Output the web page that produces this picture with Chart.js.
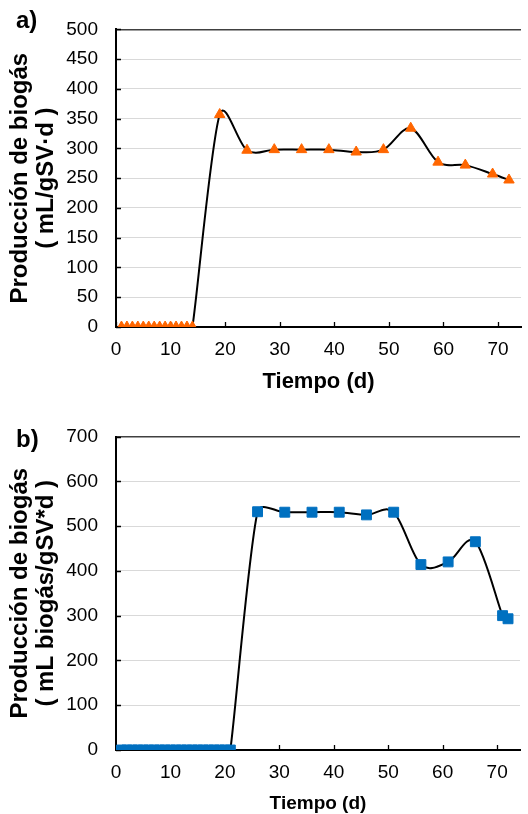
<!DOCTYPE html>
<html>
<head>
<meta charset="utf-8">
<script src="https://cdn.jsdelivr.net/npm/chart.js@4/dist/chart.umd.min.js"></script>
<style>
  body { margin: 0; background: #fff; }
  .box { position: absolute; left: 0; width: 528px; }
</style>
</head>
<body>
<div class="box" style="top:0;height:405px"><canvas id="chartA" width="528" height="405"></canvas></div>
<div class="box" style="top:405px;height:409px"><canvas id="chartB" width="528" height="409"></canvas></div>
<script>
// a) biogas production, mL/gSV·d
const daysA = [1, 2, 3, 4, 5, 6, 7, 8, 9, 10, 11, 12, 13, 14, 19, 24, 29, 34, 39, 44, 49, 54, 59, 64, 69, 72];
const biogasA = [0, 0, 0, 0, 0, 0, 0, 0, 0, 0, 0, 0, 0, 0, 357, 297, 298, 298, 298, 294, 298, 334, 277, 272, 257, 247];

// b) biogas production, mL biogás/gSV*d
const daysB = [1, 2, 3, 4, 5, 6, 7, 8, 9, 10, 11, 12, 13, 14, 15, 16, 17, 18, 19, 20, 21, 26, 31, 36, 41, 46, 51, 56, 61, 66, 71, 72];
const biogasB = [0, 0, 0, 0, 0, 0, 0, 0, 0, 0, 0, 0, 0, 0, 0, 0, 0, 0, 0, 0, 0, 532, 531, 531, 531, 525, 531, 414, 420, 465, 300, 293];

const xTicks = [0, 10, 20, 30, 40, 50, 60, 70];

const FONT = "'Liberation Sans', Arial, sans-serif";

// spreadsheet-style smoothing: tangent (next - prev)/6, kept short near close neighbours
const excelSmooth = {
  id: "excelSmooth",
  beforeDatasetsDraw(chart) {
    chart.data.datasets.forEach((ds, i) => {
      const meta = chart.getDatasetMeta(i);
      meta.dataset.updateControlPoints(chart.chartArea, "x");
      const pts = meta.data;
      pts.forEach((p, k) => {
        const prev = pts[k - 1] || p;
        const next = pts[k + 1] || p;
        const dx = (next.x - prev.x) / 6;
        const dy = (next.y - prev.y) / 6;
        const len = Math.hypot(dx, dy) || 1;
        const segPrev = Math.hypot(p.x - prev.x, p.y - prev.y);
        const segNext = Math.hypot(next.x - p.x, next.y - p.y);
        const f1 = Math.min(1, (0.42 * segPrev) / len);
        const f2 = Math.min(1, (0.42 * segNext) / len);
        p.cp1x = p.x - dx * f1; p.cp1y = p.y - dy * f1;
        p.cp2x = p.x + dx * f2; p.cp2y = p.y + dy * f2;
      });
    });
  },
};

// short tick marks pointing into the plot, plus the a)/b) tag
const innerTicks = {
  id: "innerTicks",
  beforeDatasetsDraw(chart, args, opts) {
    const { ctx, chartArea, scales } = chart;
    ctx.save();
    ctx.strokeStyle = "#000";
    ctx.lineWidth = 1.3;
    ctx.beginPath();
    scales.x.ticks.forEach((t) => {
      const px = Math.round(scales.x.getPixelForValue(t.value)) + 0.5;
      ctx.moveTo(px, chartArea.bottom);
      ctx.lineTo(px, chartArea.bottom - 5);
    });
    scales.y.ticks.forEach((t) => {
      const py = Math.round(scales.y.getPixelForValue(t.value)) + 0.5;
      ctx.moveTo(chartArea.left, py);
      ctx.lineTo(chartArea.left + 5, py);
    });
    ctx.stroke();
    ctx.restore();
  },
  afterDraw(chart, args, opts) {
    const ctx = chart.ctx;
    ctx.save();
    ctx.font = "bold 24px " + FONT;
    ctx.fillStyle = "#000";
    ctx.textBaseline = "alphabetic";
    ctx.fillText(opts.tag, opts.tagX, opts.tagY);
    ctx.restore();
  },
};

function makeChart(id, days, values, o) {
  const pts = days.map((d, i) => ({ x: d, y: values[i] }));
  return new Chart(document.getElementById(id), {
    type: "line",
    data: {
      datasets: [
        {
          data: pts,
          borderColor: "#000",
          borderWidth: 2,
          tension: 0.4,
          pointStyle: o.pointStyle,
          pointRadius: o.pointRadius,
          pointBackgroundColor: o.color,
          pointBorderColor: o.color,
          pointBorderWidth: 1,
        },
      ],
    },
    options: {
      responsive: false,
      animation: false,
      layout: { padding: { top: o.padTop, right: 0, left: 0, bottom: 0 } },
      plugins: {
        legend: { display: false },
        tooltip: { enabled: false },
        innerTicks: { tag: o.tag, tagX: 16, tagY: o.tagY },
      },
      scales: {
        x: {
          type: "linear",
          min: 0,
          max: 74.2,
          afterBuildTicks: (s) => { s.ticks = xTicks.map((v) => ({ value: v })); },
          afterFit: (s) => { s.height = o.xHeight; s.paddingRight = 0; s.paddingLeft = 0; },
          grid: { display: false, drawTicks: false },
          border: { color: "#000", width: 2 },
          ticks: { padding: 11, color: "#000", font: { family: FONT, size: 19 } },
          title: {
            display: true,
            text: "Tiempo (d)",
            color: "#000",
            font: { family: FONT, size: o.xTitleSize, weight: "bold", lineHeight: 1 },
            padding: { top: 0, bottom: o.xTitlePad },
          },
        },
        y: {
          min: 0,
          max: o.yMax,
          afterFit: (s) => { s.width = 116; },
          ticks: { stepSize: o.yStep, padding: 18, color: "#000", font: { family: FONT, size: 19 } },
          grid: {
            drawTicks: false,
            color: (c) => (c.tick && c.tick.value === o.yMax ? "#404040" : "#D9D9D9"),
            lineWidth: (c) => (c.tick && c.tick.value === o.yMax ? 1.5 : 1),
          },
          border: { color: "#000", width: 2 },
          title: {
            display: true,
            text: ["Producción de biogás", o.yUnit],
            color: "#000",
            font: { family: FONT, size: 24, weight: "bold", lineHeight: 1.1 },
            padding: { top: 7, bottom: 0 },
          },
        },
      },
    },
    plugins: [excelSmooth, innerTicks],
  });
}

makeChart("chartA", daysA, biogasA, {
  tag: "a)", tagY: 28, padTop: 17, xHeight: 78, xTitleSize: 22, xTitlePad: 12,
  yMax: 500, yStep: 50, yUnit: "( mL/gSV·d )",
  pointStyle: "triangle", pointRadius: 6, color: "#FF6600",
});

makeChart("chartB", daysB, biogasB, {
  tag: "b)", tagY: 42, padTop: 31.5, xHeight: 64, xTitleSize: 19, xTitlePad: 0.5,
  yMax: 700, yStep: 100, yUnit: "( mL biogás/gSV*d )",
  pointStyle: "rect", pointRadius: 7, color: "#0070C0",
});
</script>
</body>
</html>
